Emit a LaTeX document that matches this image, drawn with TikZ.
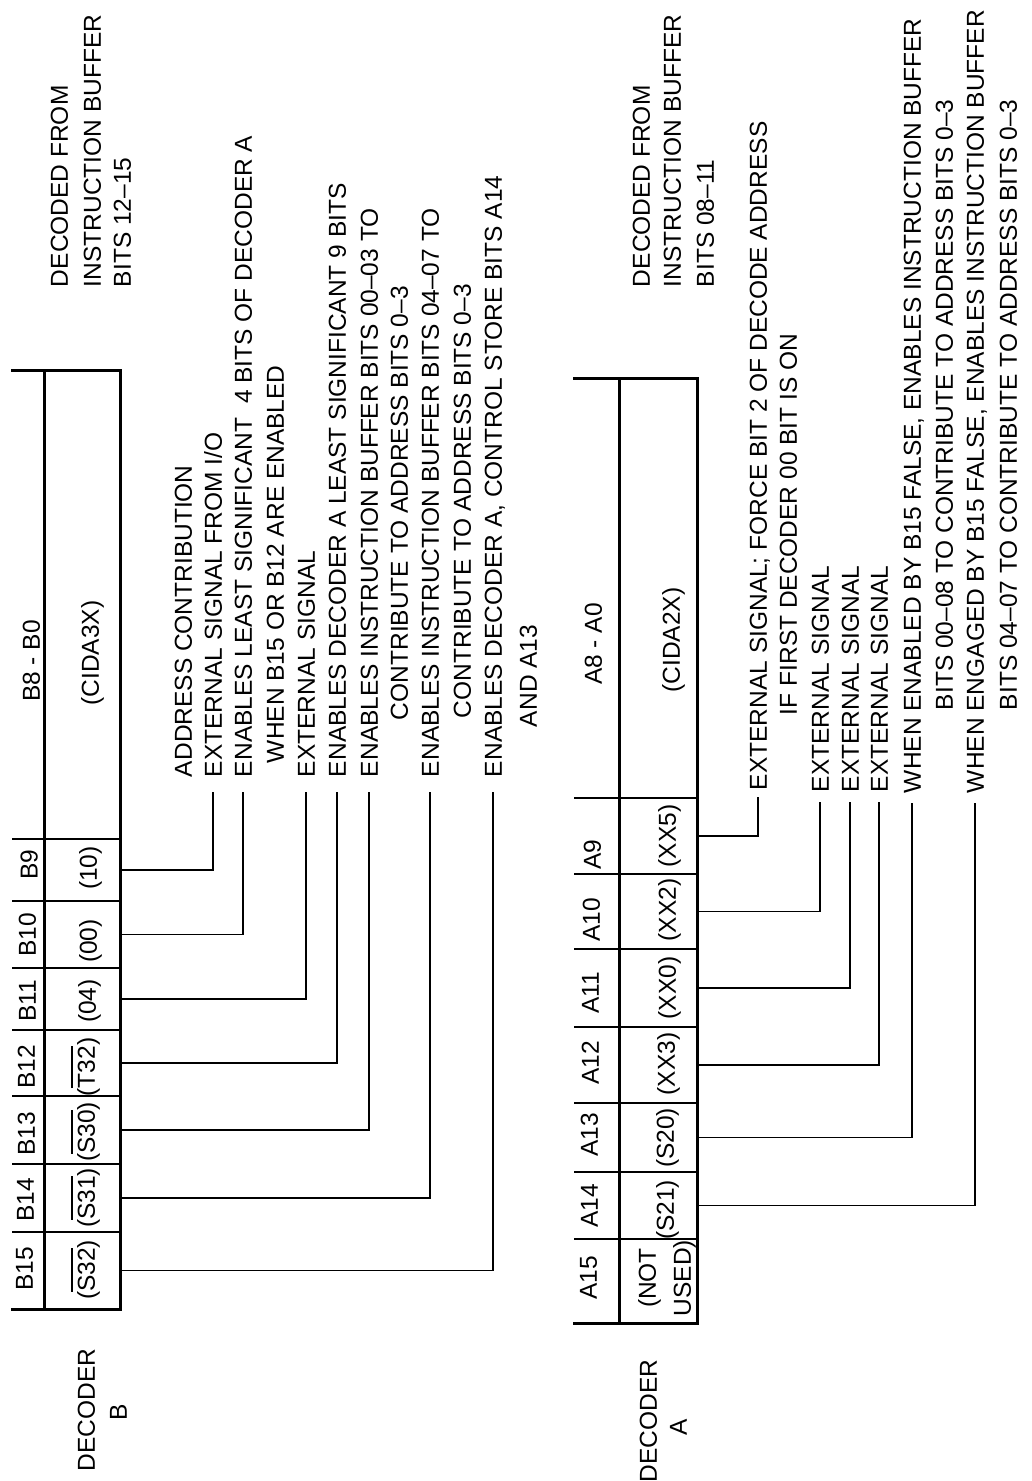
\documentclass[tikz,border=0pt]{standalone}
\usepackage{fontspec}
\setmainfont{Liberation Sans}
\newcommand\ovl[1]{\setbox0=\hbox{#1}\rlap{\rule[22pt]{\wd0}{2pt}}\box0}
\begin{document}
\begin{tikzpicture}[x=1pt,y=-1pt,
  every node/.style={font=\fontsize{24.5}{28}\selectfont, inner sep=0pt, outer sep=0pt},
  lbl/.style={rotate=90, anchor=west, text height=17.5pt, text depth=0pt},
  ctr/.style={rotate=90, anchor=center, text height=17.5pt, text depth=0pt},
  cellbox/.style={rectangle, draw=none, minimum width=#1},
  cellbox/.default=76pt,
  tab/.style={line width=3pt, line cap=rect},
  sep/.style={line width=2.2pt},
  conn/.style={line width=1.8pt},
]
\useasboundingbox (0,0) rectangle (1032,1481);

%% ---------------- Decoder B ----------------
\draw[tab] (12,370) -- (120,370) (12,1309) -- (120,1309);
\draw[tab] (44,370) -- (44,1309) (120,370) -- (120,1309);
\foreach \yy in {839,901,968,1030,1096,1164,1232} \draw[sep] (12,\yy) -- (120,\yy);

\node[cellbox, minimum height=469pt] (cB8) at (82,604.5) {};
\node[cellbox, minimum height=62pt] (cB9)  at (82,870) {};
\node[cellbox, minimum height=67pt] (cB10) at (82,934.5) {};
\node[cellbox, minimum height=62pt] (cB11) at (82,999) {};
\node[cellbox, minimum height=66pt] (cB12) at (82,1063) {};
\node[cellbox, minimum height=68pt] (cB13) at (82,1130) {};
\node[cellbox, minimum height=68pt] (cB14) at (82,1198) {};
\node[cellbox, minimum height=77pt] (cB15) at (82,1270.5) {};

\node[ctr] (hB8)  at (31,661)  {B8 - B0};
\node[ctr] (tB8)  at (90,653)  {(CIDA3X)};
\node[ctr] (hB9)  at (29,865)  {B9};
\node[ctr] (tB9)  at (88,868)  {(10)};
\node[ctr] (hB10) at (27,935)  {B10};
\node[ctr] (tB10) at (88,941)  {(00)};
\node[ctr] (hB11) at (27,1001) {B11};
\node[ctr] (tB11) at (87,1001) {(04)};
\node[ctr] (hB12) at (26,1067) {B12};
\node[ctr] (tB12) at (86,1067) {(\ovl{T32})};
\node[ctr] (hB13) at (26,1134) {B13};
\node[ctr] (tB13) at (86,1132) {(\ovl{S30})};
\node[ctr] (hB14) at (25,1200) {B14};
\node[ctr] (tB14) at (86,1198) {(\ovl{S31})};
\node[ctr] (hB15) at (24,1269) {B15};
\node[ctr] (tB15) at (86,1270) {(\ovl{S32})};

\node[ctr] (decB1) at (86,1410) {DECODER};
\node[ctr] (decB2) at (118,1412) {B};

\node[lbl] (dB1) at (59,287)  {DECODED FROM};
\node[lbl] (dB2) at (92,287)  {INSTRUCTION BUFFER};
\node[lbl] (dB3) at (122,287) {BITS 12--15};

\node[lbl] (hdB)   at (183,777) {ADDRESS CONTRIBUTION};
\node[lbl] (lB9)   at (213,777) {EXTERNAL SIGNAL FROM I/O};
\node[lbl] (lB10)  at (243,777) {ENABLES LEAST SIGNIFICANT\ \ 4 BITS OF DECODER A};
\node[lbl] (lB10b) at (275,763) {WHEN B15 OR B12 ARE ENABLED};
\node[lbl] (lB11)  at (306,777) {EXTERNAL SIGNAL};
\node[lbl] (lB12)  at (337,777) {ENABLES DECODER A LEAST SIGNIFICANT 9 BITS};
\node[lbl] (lB13)  at (369,777) {ENABLES INSTRUCTION BUFFER BITS 00--03 TO};
\node[lbl] (lB13b) at (399,720) {CONTRIBUTE TO ADDRESS BITS 0--3};
\node[lbl] (lB14)  at (430,777) {ENABLES INSTRUCTION BUFFER BITS 04--07 TO};
\node[lbl] (lB14b) at (462,718) {CONTRIBUTE TO ADDRESS BITS 0--3};
\node[lbl] (lB15)  at (493,777) {ENABLES DECODER A, CONTROL STORE BITS A14};
\node[lbl] (lB15b) at (528,727) {AND A13};

\foreach \n in {9,10,11,12,13,14,15}
  \draw[conn] (cB\n.east) -| ([yshift=-15pt]lB\n.west);

%% ---------------- Decoder A ----------------
\draw[tab] (574,378) -- (697,378) (574,1323) -- (697,1323);
\draw[tab] (619,378) -- (619,1323) (697,378) -- (697,1323);
\foreach \yy in {798,874,949,1027,1103,1172,1239} \draw[sep] (574,\yy) -- (697,\yy);

\node[cellbox=78pt, minimum height=420pt] (cA8) at (658,588) {};
\node[cellbox=78pt, minimum height=76pt] (cA9)  at (658,836) {};
\node[cellbox=78pt, minimum height=75pt] (cA10) at (658,911.5) {};
\node[cellbox=78pt, minimum height=78pt] (cA11) at (658,988) {};
\node[cellbox=78pt, minimum height=76pt] (cA12) at (658,1065) {};
\node[cellbox=78pt, minimum height=69pt] (cA13) at (658,1137.5) {};
\node[cellbox=78pt, minimum height=67pt] (cA14) at (658,1205.5) {};
\node[cellbox=78pt, minimum height=84pt] (cA15) at (658,1281) {};

\node[ctr] (hA8)  at (593,644)  {A8 - A0};
\node[ctr] (tA8)  at (671,640)  {(CIDA2X)};
\node[ctr] (hA9)  at (592,855)  {A9};
\node[ctr] (tA9)  at (667,836)  {(XX5)};
\node[ctr] (hA10) at (591,920)  {A10};
\node[ctr] (tA10) at (667,910)  {(XX2)};
\node[ctr] (hA11) at (590,993)  {A11};
\node[ctr] (tA11) at (667,988)  {(XX0)};
\node[ctr] (hA12) at (590,1063) {A12};
\node[ctr] (tA12) at (666,1064) {(XX3)};
\node[ctr] (hA13) at (589,1135) {A13};
\node[ctr] (tA13) at (665,1138) {(S20)};
\node[ctr] (hA14) at (589,1206) {A14};
\node[ctr] (tA14) at (665,1210) {(S21)};
\node[ctr] (hA15) at (588,1278) {A15};
\node[ctr] (tA15a) at (647,1278) {(NOT};
\node[ctr] (tA15b) at (682,1278) {USED)};

\node[ctr] (decA1) at (648,1421) {DECODER};
\node[ctr] (decA2) at (678,1427) {A};

\node[lbl] (dA1) at (641,287) {DECODED FROM};
\node[lbl] (dA2) at (672,287) {INSTRUCTION BUFFER};
\node[lbl] (dA3) at (705,287) {BITS 08--11};

\node[lbl] (lA9)   at (758,790)  {EXTERNAL SIGNAL; FORCE BIT 2 OF DECODE ADDRESS};
\node[lbl] (lA9b)  at (788,715)  {IF FIRST DECODER 00 BIT IS ON};
\node[lbl] (lA10)  at (820,792)  {EXTERNAL SIGNAL};
\node[lbl] (lA11)  at (850,792)  {EXTERNAL SIGNAL};
\node[lbl] (lA12)  at (879,792)  {EXTERNAL SIGNAL};
\node[lbl] (lA13)  at (912,793)  {WHEN ENABLED BY B15 FALSE, ENABLES INSTRUCTION BUFFER};
\node[lbl] (lA13b) at (944,710)  {BITS 00--08 TO CONTRIBUTE TO ADDRESS BITS 0--3};
\node[lbl] (lA14)  at (975,793)  {WHEN ENGAGED BY B15 FALSE, ENABLES INSTRUCTION BUFFER};
\node[lbl] (lA14b) at (1008,710) {BITS 04--07 TO CONTRIBUTE TO ADDRESS BITS 0--3};

\draw[conn] (cA9.east) -| ([yshift=-7pt]lA9.west);
\foreach \n in {10,11,12,13,14}
  \draw[conn] (cA\n.east) -| ([yshift=-10pt]lA\n.west);
\end{tikzpicture}
\end{document}
